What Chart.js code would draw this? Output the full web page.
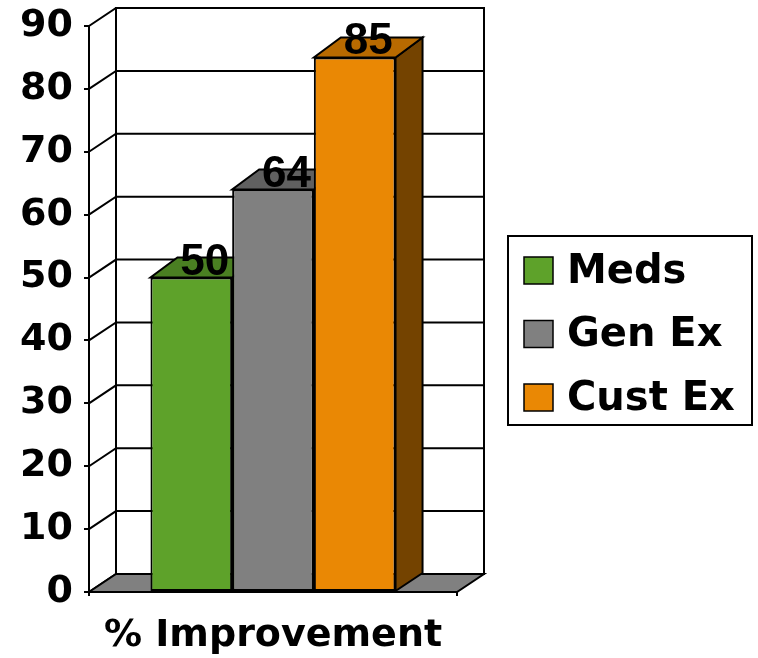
<!DOCTYPE html>
<html><head><meta charset="utf-8">
<script src="https://cdn.jsdelivr.net/npm/chart.js@4/dist/chart.umd.min.js"></script>
<style>html,body{margin:0;padding:0;background:#fff;overflow:hidden}</style>
</head><body>
<canvas id="c" width="758" height="658" style="display:block"></canvas>
<script>
const categories = ['% Improvement'];
const seriesNames = ['Meds', 'Gen Ex', 'Cust Ex'];
const medsValues = [50];
const genExValues = [64];
const custExValues = [85];
const yTickValues = [0, 10, 20, 30, 40, 50, 60, 70, 80, 90];
const frontColors = ['#5EA22A', '#808080', '#EA8804'];
const topColors = ['#4A7F22', '#606060', '#B86A00'];
const sideColors = ['#3E6B1C', '#505050', '#744300'];

const DX = 27, DYW = 18, DYT = 20, DYB = 18;
const LINE = 2;

const threeD = {
  id: 'threeD',
  beforeDraw(chart) {
    const {ctx, chartArea: a, scales: {y}} = chart;
    ctx.save();
    ctx.lineWidth = LINE; ctx.strokeStyle = '#000';
    ctx.fillStyle = '#fff';
    ctx.beginPath();
    ctx.rect(a.left + DX, a.top - DYW, a.right - a.left, a.bottom - a.top);
    ctx.fill(); ctx.stroke();
    yTickValues.forEach(v => {
      const py = y.getPixelForValue(v);
      ctx.beginPath();
      ctx.moveTo(a.left, py);
      ctx.lineTo(a.left + DX, py - DYW);
      ctx.lineTo(a.right + DX, py - DYW);
      ctx.stroke();
    });
    ctx.fillStyle = '#808080';
    ctx.beginPath();
    ctx.moveTo(a.left, a.bottom);
    ctx.lineTo(a.right, a.bottom);
    ctx.lineTo(a.right + DX, a.bottom - DYW);
    ctx.lineTo(a.left + DX, a.bottom - DYW);
    ctx.closePath();
    ctx.fill(); ctx.stroke();
    ctx.restore();
  },
  beforeDatasetsDraw(chart) {
    const ctx = chart.ctx;
    ctx.save();
    ctx.lineWidth = LINE; ctx.strokeStyle = '#000'; ctx.lineJoin = 'miter';
    chart.data.datasets.forEach((ds, i) => {
      const el = chart.getDatasetMeta(i).data[0];
      const {x, y, base, width} = el.getProps(['x', 'y', 'base', 'width'], true);
      const l = x - width / 2, r = x + width / 2;
      ctx.fillStyle = sideColors[i];
      ctx.beginPath();
      ctx.moveTo(r, y); ctx.lineTo(r + DX, y - DYT); ctx.lineTo(r + DX, base - DYB); ctx.lineTo(r, base);
      ctx.closePath(); ctx.fill(); ctx.stroke();
      ctx.fillStyle = topColors[i];
      ctx.beginPath();
      ctx.moveTo(l, y); ctx.lineTo(r, y); ctx.lineTo(r + DX, y - DYT); ctx.lineTo(l + DX, y - DYT);
      ctx.closePath(); ctx.fill(); ctx.stroke();
    });
    ctx.restore();
  },
  afterDatasetsDraw(chart) {
    const ctx = chart.ctx;
    ctx.save();
    ctx.fillStyle = '#000';
    ctx.font = 'bold 44px "Liberation Sans", Arial, sans-serif';
    ctx.textAlign = 'center'; ctx.textBaseline = 'alphabetic';
    chart.data.datasets.forEach((ds, i) => {
      const el = chart.getDatasetMeta(i).data[0];
      const {x, y} = el.getProps(['x', 'y'], true);
      ctx.fillText(String(ds.data[0]), x + DX / 2, y - 3);
    });
    ctx.restore();
  },
  afterDraw(chart) {
    const ctx = chart.ctx;
    const box = {left: 508, top: 236, right: 752, bottom: 425};
    ctx.save();
    ctx.lineWidth = LINE; ctx.strokeStyle = '#000';
    ctx.strokeRect(box.left, box.top, box.right - box.left, box.bottom - box.top);
    ctx.font = 'bold 40px "DejaVu Sans", sans-serif';
    ctx.textAlign = 'left'; ctx.textBaseline = 'middle';
    chart.data.datasets.forEach((ds, i) => {
      const cy = 270.5 + i * 63.5;
      ctx.fillStyle = ds.backgroundColor;
      ctx.fillRect(524, cy - 13.5, 29, 27);
      ctx.lineWidth = 1.5;
      ctx.strokeRect(524, cy - 13.5, 29, 27);
      ctx.fillStyle = '#000';
      ctx.fillText(ds.label, 567, cy + 2);
    });
    ctx.restore();
  }
};

const tickFont = {family: '"DejaVu Sans", sans-serif', weight: 'bold', size: 38};

new Chart(document.getElementById('c'), {
  type: 'bar',
  data: {
    labels: categories,
    datasets: [
      {label: seriesNames[0], data: medsValues, backgroundColor: frontColors[0]},
      {label: seriesNames[1], data: genExValues, backgroundColor: frontColors[1]},
      {label: seriesNames[2], data: custExValues, backgroundColor: frontColors[2]}
    ].map(d => Object.assign(d, {borderColor: '#000', borderWidth: 2, borderSkipped: false,
      categoryPercentage: 0.666, barPercentage: 1}))
  },
  options: {
    responsive: false,
    animation: false,
    devicePixelRatio: 1,
    layout: {padding: {top: 26, right: 301, bottom: 0, left: 0}},
    plugins: {legend: {display: false}, tooltip: {enabled: false}},
    scales: {
      x: {
        ticks: {color: '#000', font: tickFont, padding: 17, maxRotation: 0, autoSkip: false},
        grid: {drawOnChartArea: false, drawTicks: true, tickLength: 4, color: '#000', lineWidth: LINE, offset: true},
        border: {display: true, color: '#000', width: LINE},
        afterFit(s) { s.height = 66; s.paddingLeft = 0; s.paddingRight = 0; }
      },
      y: {
        min: 0, max: 90,
        afterBuildTicks(s) { s.ticks = yTickValues.map(v => ({value: v})); },
        ticks: {color: '#000', font: tickFont, padding: 11},
        grid: {drawOnChartArea: false, drawTicks: true, tickLength: 5, color: '#000', lineWidth: LINE},
        border: {display: true, color: '#000', width: LINE},
        afterFit(s) { s.width = 89; s.paddingTop = 0; s.paddingBottom = 0; }
      }
    }
  },
  plugins: [threeD]
});
</script>
</body></html>
